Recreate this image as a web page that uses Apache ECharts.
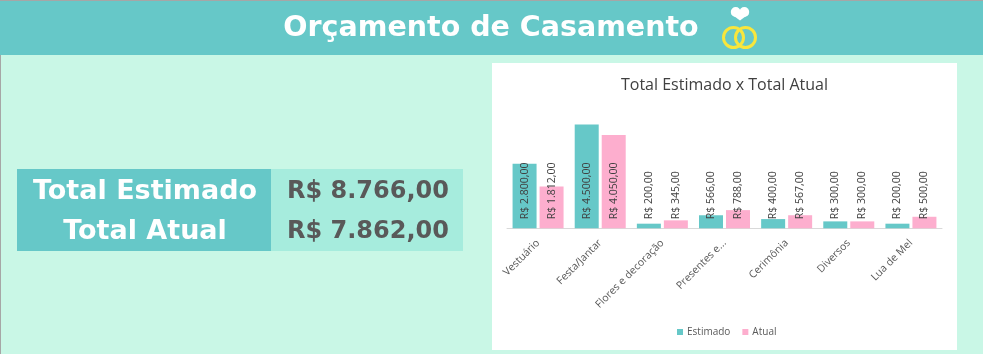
<!DOCTYPE html>
<html><head><meta charset="utf-8">
<style>html,body{margin:0;padding:0;background:#C9F7E6}#c{width:983px;height:354px}</style>
<script src="https://cdn.jsdelivr.net/npm/echarts@6/dist/echarts.min.js"></script>
</head><body><div id="c"></div>
<script>
const pageTitle = 'Orçamento de Casamento';
const chartTitle = 'Total Estimado x Total Atual';
const categories = ['Vestuário','Festa/Jantar','Flores e decoração','Presentes e...','Cerimônia','Diversos','Lua de Mel'];
const estimado = [2800,4500,200,566,400,300,200];
const atual = [1812,4050,345,788,567,300,500];
const summaryLabels = ['Total Estimado','Total Atual'];
const summaryValues = ['R$ 8.766,00','R$ 7.862,00'];

const brl = v => 'R$ ' + v.toLocaleString('pt-BR',{minimumFractionDigits:2,maximumFractionDigits:2});
const teal = '#66C8C8', pink = '#FDAECE', bold = 'DejaVu Sans', uiFont = 'Open Sans';
const barLabel = {show:true, position:'insideBottom', distance:9, rotate:90, align:'left', verticalAlign:'middle',
  formatter:p=>brl(p.value), fontFamily:uiFont, fontSize:10.5, color:'#404040', textBorderWidth:0};

const rect = (x,y,w,h,fill,z)=>({type:'rect',silent:true,z:z||0,shape:{x,y,width:w,height:h},style:{fill}});
const txt = (x,y,text,size,fill)=>({type:'text',silent:true,z:5,x,y,style:{text,fontFamily:bold,fontWeight:'bold',fontSize:size,fill,align:'center',verticalAlign:'middle'}});
const ring = (cx,cy)=>({type:'circle',silent:true,z:5,shape:{cx,cy,r:10},style:{fill:'none',stroke:'#F8E63C',lineWidth:3}});
const dot = (cx,cy,r)=>({type:'circle',silent:true,z:5,shape:{cx,cy,r},style:{fill:'#FFFFFF'}});

const chart = echarts.init(document.getElementById('c'),null,{renderer:'canvas'});
chart.setOption({
  animation:false,
  backgroundColor:'#C9F7E6',
  title:{text:chartTitle,left:724.5,top:77,padding:0,textAlign:'center',textStyle:{fontFamily:uiFont,fontWeight:'normal',fontSize:16,color:'#404040'}},
  legend:{left:677,top:327,padding:0,itemWidth:6,itemHeight:6,itemGap:12,icon:'rect',data:['Estimado','Atual'],
    textStyle:{fontFamily:uiFont,fontSize:10,color:'#595959',padding:[0,0,0,-1]}},
  grid:{left:507,right:41,top:113,height:115.3,containLabel:false},
  xAxis:{type:'category',data:categories,axisLine:{lineStyle:{color:'#D9D9D9',width:1}},axisTick:{show:false},
    axisLabel:{interval:0,rotate:45,margin:13,fontFamily:uiFont,fontSize:10.5,color:'#595959'}},
  yAxis:{type:'value',min:0,max:5000,interval:1000,show:false,splitLine:{show:false}},
  series:[
    {name:'Estimado',type:'bar',data:estimado,barWidth:24,barGap:'12.5%',itemStyle:{color:teal},label:barLabel,z:3},
    {name:'Atual',type:'bar',data:atual,barWidth:24,itemStyle:{color:pink},label:barLabel,z:3}
  ],
  graphic:[
    rect(0,0,983,1,'#A6A6A6',1),
    rect(0,0,1,354,'#A6A6A6',1),
    rect(0,1,983,54,teal,1),
    rect(492,63,465,287,'#FFFFFF',-1),
    rect(17,169,254,82,teal,1),
    rect(271,169,192,82,'#A6ECDD',1),
    txt(491,29,pageTitle,28.5,'#FFFFFF'),
    ring(733.5,37.5), ring(745.5,37.5),
    dot(735.7,12,4.9), dot(744.3,12,4.9),
    {type:'polygon',silent:true,z:5,shape:{points:[[731.2,14],[748.8,14],[740,20.5]]},style:{fill:'#FFFFFF'}},
    txt(145,192,summaryLabels[0],27,'#FFFFFF'),
    txt(145,232,summaryLabels[1],27,'#FFFFFF'),
    txt(368,192,summaryValues[0],24,'#595959'),
    txt(368,232,summaryValues[1],24,'#595959')
  ]
});
</script></body></html>
